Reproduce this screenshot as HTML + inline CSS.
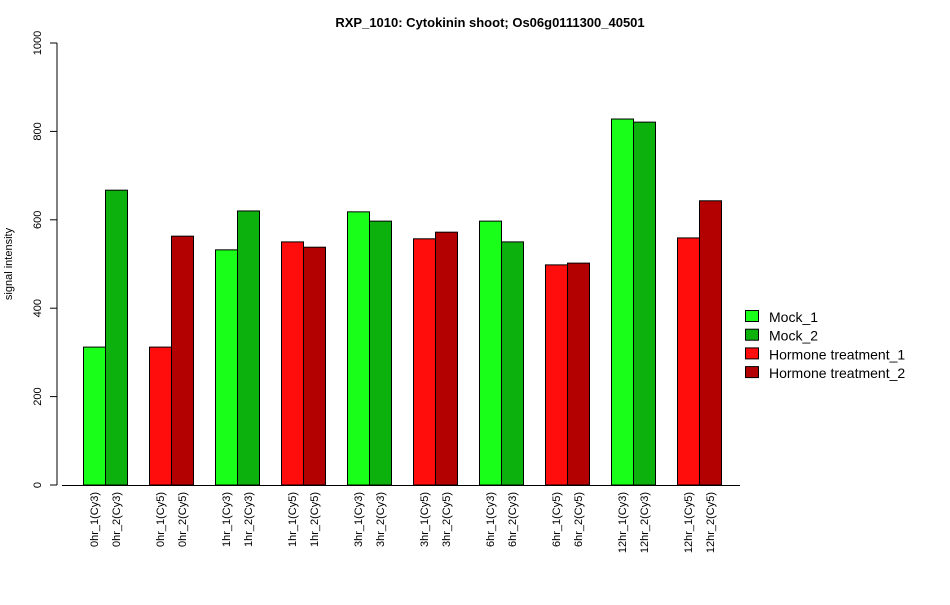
<!DOCTYPE html>
<html><head><meta charset="utf-8"><style>
body{margin:0;background:#fff;}
svg{font-family:"Liberation Sans",Arial,sans-serif;}
</style></head><body>
<svg id="chart" width="950" height="600" xmlns="http://www.w3.org/2000/svg">
<text x="490" y="27" text-anchor="middle" font-size="13" font-weight="bold">RXP_1010: Cytokinin shoot; Os06g0111300_40501</text>
<text transform="translate(12,264) rotate(-90)" text-anchor="middle" font-size="11">signal intensity</text>
<g id="yaxis"></g>
<g id="bars"></g>
<g id="xlabels"></g>
<g id="legend"></g>
</svg>
<script>
const categories=["0hr_1(Cy3)","0hr_2(Cy3)","0hr_1(Cy5)","0hr_2(Cy5)","1hr_1(Cy3)","1hr_2(Cy3)","1hr_1(Cy5)","1hr_2(Cy5)","3hr_1(Cy3)","3hr_2(Cy3)","3hr_1(Cy5)","3hr_2(Cy5)","6hr_1(Cy3)","6hr_2(Cy3)","6hr_1(Cy5)","6hr_2(Cy5)","12hr_1(Cy3)","12hr_2(Cy3)","12hr_1(Cy5)","12hr_2(Cy5)"];
const values=[312,667,312,563,532,620,550,538,618,597,557,572,597,550,498,502,828,821,559,643];
const seriesIndex=[0,1,2,3,0,1,2,3,0,1,2,3,0,1,2,3,0,1,2,3];
const seriesNames=["Mock_1","Mock_2","Hormone treatment_1","Hormone treatment_2"];
const seriesColors=["#1aff1a","#0db10d","#ff0d0d","#b30000"];
const yTicks=[0,200,400,600,800,1000];

const NS="http://www.w3.org/2000/svg";
const y0=485,y1=43,yMax=1000;
const yScale=v=>y0-(v/yMax)*(y0-y1);
const barW=22,startX=83,groupGap=22;
const xScale=i=>startX+i*barW+Math.floor(i/2)*groupGap;
function mk(tag,attrs,parent){const e=document.createElementNS(NS,tag);for(const k in attrs)e.setAttribute(k,attrs[k]);parent.appendChild(e);return e;}

const ya=document.getElementById('yaxis');
const ax=mk('line',{x1:57,x2:57,y1:yScale(0),y2:yScale(1000),stroke:'#000'},ya);


yTicks.forEach(t=>{
 const l=mk('line',{x1:50,x2:57,y1:yScale(t),y2:yScale(t),stroke:'#000'},ya);
 
 
 const tx=mk('text',{transform:`translate(41,${yScale(t)}) rotate(-90)`,'text-anchor':'middle','font-size':11},ya);
 tx.textContent=t;
 
 
});

const bg=document.getElementById('bars');
const xl=document.getElementById('xlabels');
values.forEach((v,i)=>{
 const r=mk('rect',{x:xScale(i)+0.5,y:yScale(v),width:barW,height:yScale(0)-yScale(v),fill:seriesColors[seriesIndex[i]],stroke:'#000','stroke-width':1},bg);
 
 
 const t=mk('text',{transform:`translate(${xScale(i)+barW/2+4},492) rotate(-90)`,'text-anchor':'end','font-size':11},xl);
 t.textContent=categories[i];
 
 
});
const base=mk('line',{x1:62,x2:740,y1:yScale(0)+0.5,y2:yScale(0)+0.5,stroke:'#000'},bg);



const lg=document.getElementById('legend');
seriesNames.forEach((n,i)=>{
 const y=317+i*18.7;
 const r=mk('rect',{x:745.5,y:y-6.5,width:13,height:11,fill:seriesColors[i],stroke:'#000'},lg);
 
 
 const t=mk('text',{x:769,y:y+5,'font-size':14},lg);
 t.textContent=n;
 
 
});
</script>
</body></html>
